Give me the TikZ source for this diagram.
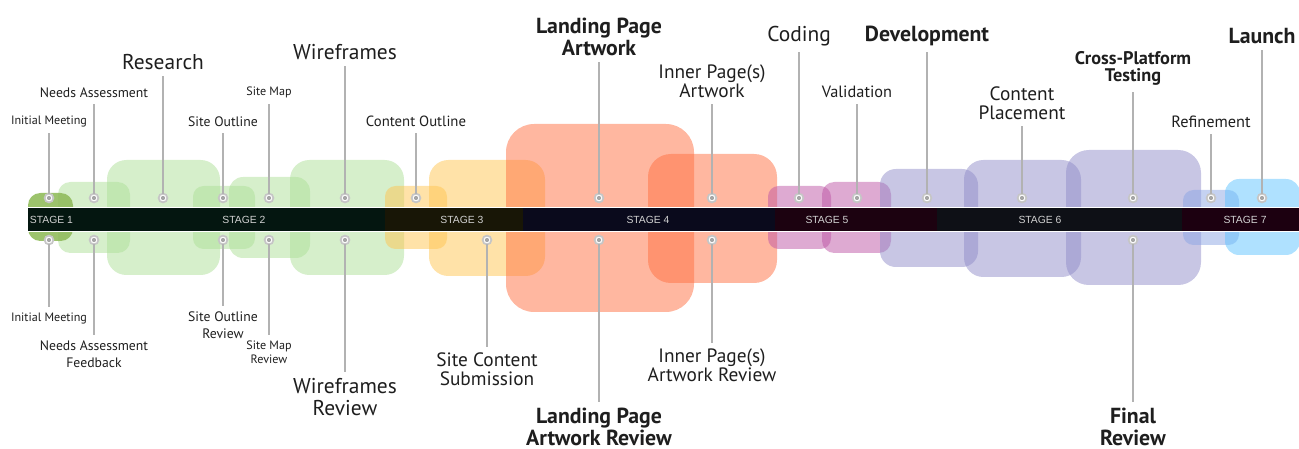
\documentclass[tikz,border=0pt]{standalone}
\usepackage{fontspec}
\setmainfont{PT Sans}
\newfontfamily\stagefont{Liberation Sans}
\usetikzlibrary{positioning}

\definecolor{grn}{RGB}{173,223,151}
\definecolor{grndark}{RGB}{145,188,92}
\definecolor{ylw}{RGB}{255,197,81}
\definecolor{slm}{RGB}{255,111,65}
\definecolor{pnk}{RGB}{189,85,165}
\definecolor{lav}{RGB}{145,141,201}
\definecolor{periw}{RGB}{140,165,228}
\definecolor{sky}{RGB}{95,195,255}
\definecolor{barA}{RGB}{4,22,16}
\definecolor{barB}{RGB}{24,22,6}
\definecolor{barC}{RGB}{10,10,28}
\definecolor{barD}{RGB}{28,2,16}
\definecolor{barE}{RGB}{14,16,22}
\definecolor{barF}{RGB}{28,0,16}
\definecolor{txt}{RGB}{30,30,30}

\begin{document}
\begin{tikzpicture}
[
    x = 0.02cm, y = -0.02cm,
    every node/.style = {inner sep = 0pt, outer sep = 0pt, text = txt},
    gbox/.style = {fill = grn, fill opacity = 0.5},
    ybox/.style = {fill = ylw, fill opacity = 0.5},
    sbox/.style = {fill = slm, fill opacity = 0.5},
    pbox/.style = {fill = pnk, fill opacity = 0.5},
    lbox/.style = {fill = lav, fill opacity = 0.5},
    bbox/.style = {fill = sky, fill opacity = 0.5}
  ]

  \tikzset{StopStyle/.style = {shape        = circle,
                               draw         = gray!45,
                               fill         = white,
                               line width   = 1pt,
                               minimum size = 5pt,
                               path picture = {\fill[gray!70] (path picture bounding box.center) circle (1.2pt);}},
           LeadStyle/.style = {draw = gray!60, line width = 0.6pt},
           TinyStyle/.style  = {font = \fontsize{6.9}{7.6}\selectfont, align = center, inner sep = 3.5pt},
           SmallStyle/.style = {font = \fontsize{7.8}{9.3}\selectfont, align = center, inner sep = 3.5pt},
           MedStyle/.style   = {font = \fontsize{9.3}{10.4}\selectfont, align = center, inner sep = 3.5pt},
           MidStyle/.style   = {font = \fontsize{11}{10.6}\selectfont, align = center, inner sep = 3.5pt},
           BigStyle/.style   = {font = \fontsize{12.2}{12.6}\selectfont, align = center, inner sep = 3.5pt},
           BoldStyle/.style  = {font = \fontsize{12.4}{12.4}\selectfont\bfseries, align = center, inner sep = 3.5pt},
           BoldMidStyle/.style = {font = \fontsize{10.4}{9.8}\selectfont\bfseries, align = center, inner sep = 3.5pt},
           StageStyle/.style = {font = \stagefont\fontsize{5.9}{6}\selectfont, text = white!82!black}}

  \useasboundingbox (0,0) rectangle (1299,449);

  % stage boxes
  \fill[gbox, rounded corners = 7pt] (58,182) rectangle (130,253);
  \fill[gbox, rounded corners = 11pt] (107,160) rectangle (220,275);
  \fill[gbox, rounded corners = 6pt] (193,186) rectangle (255,249);
  \fill[gbox, rounded corners = 8pt] (229,177) rectangle (310,258);
  \fill[gbox, rounded corners = 11pt] (290,160) rectangle (404,275);
  \fill[ybox, rounded corners = 6pt] (385,186) rectangle (447,249);
  \fill[ybox, rounded corners = 11pt] (429,160) rectangle (545,276);
  \fill[sbox, rounded corners = 16pt] (506,124) rectangle (694,312);
  \fill[sbox, rounded corners = 13pt] (648,154) rectangle (777,283);
  \fill[pbox, rounded corners = 6pt] (768,186) rectangle (831,249);
  \fill[pbox, rounded corners = 7pt] (822,182) rectangle (891,253);
  \fill[lbox, rounded corners = 9pt] (880,169) rectangle (978,267);
  \fill[lbox, rounded corners = 11pt] (964,160) rectangle (1081,277);
  \fill[lbox, rounded corners = 13pt] (1066,150) rectangle (1201,285);
  \fill[periw, fill opacity = 0.5, rounded corners = 6pt] (1183,190) rectangle (1239,245);
  \fill[bbox, rounded corners = 8pt] (1225,179) rectangle (1300,255);
  \fill[grndark, fill opacity = 0.9, rounded corners = 7pt] (28,193) rectangle (73,241);

  % timeline bar
  \fill[barA] (28,208) rectangle (386,231);
  \fill[barB] (385,208) rectangle (524,231);
  \fill[barC] (523,208) rectangle (776,231);
  \fill[barD] (775,208) rectangle (938,231);
  \fill[barE] (937,208) rectangle (1183,231);
  \fill[barF] (1182,208) rectangle (1300,231);
  \draw[white, line width = 0.8pt] (28,207.5) -- (1300,207.5);
  \draw[white, line width = 0.8pt] (28,231.5) -- (1300,231.5);

  \node[StageStyle, anchor = west] (st1) at (30,219.5) {STAGE 1};
  \node[StageStyle] (st2) at (244,219.5) {STAGE 2};
  \node[StageStyle] (st3) at (462,219.5) {STAGE 3};
  \node[StageStyle] (st4) at (648,219.5) {STAGE 4};
  \node[StageStyle] (st5) at (827,219.5) {STAGE 5};
  \node[StageStyle] (st6) at (1040,219.5) {STAGE 6};
  \node[StageStyle] (st7) at (1245,219.5) {STAGE 7};

  % stops above the bar
  \node[StopStyle] (uIM) at (49,198) {};
  \node[StopStyle] (uNA) at (94,198) {};
  \node[StopStyle] (uRE) at (163,198) {};
  \node[StopStyle] (uSO) at (223,198) {};
  \node[StopStyle] (uSM) at (269,198) {};
  \node[StopStyle] (uWF) at (345,198) {};
  \node[StopStyle] (uCO) at (416,198) {};
  \node[StopStyle] (uLP) at (599,198) {};
  \node[StopStyle] (uIP) at (712,198) {};
  \node[StopStyle] (uCD) at (799,198) {};
  \node[StopStyle] (uVA) at (857,198) {};
  \node[StopStyle] (uDV) at (927,198) {};
  \node[StopStyle] (uCP) at (1022,198) {};
  \node[StopStyle] (uCT) at (1133,198) {};
  \node[StopStyle] (uRF) at (1211,198) {};
  \node[StopStyle] (uLA) at (1262,198) {};

  % stops below the bar
  \node[StopStyle] (dIM) at (49,240) {};
  \node[StopStyle] (dNA) at (94,240) {};
  \node[StopStyle] (dSO) at (223,240) {};
  \node[StopStyle] (dSM) at (269,240) {};
  \node[StopStyle] (dWF) at (345,240) {};
  \node[StopStyle] (dSC) at (487,240) {};
  \node[StopStyle] (dLP) at (599,240) {};
  \node[StopStyle] (dIP) at (712,240) {};
  \node[StopStyle] (dFR) at (1133,240) {};

  % labels above
  \node[TinyStyle, anchor = south] (tIM) at (49,133) {Initial Meeting};
  \node[SmallStyle, anchor = south] (tNA) at (94,104) {Needs Assessment};
  \node[BigStyle, anchor = south] (tRE) at (163,76) {Research};
  \node[SmallStyle, anchor = south] (tSO) at (223,133) {Site Outline};
  \node[TinyStyle, anchor = south] (tSM) at (269,104) {Site Map};
  \node[BigStyle, anchor = south] (tWF) at (345,66) {Wireframes};
  \node[SmallStyle, anchor = south, font = \fontsize{8.4}{9}\selectfont] (tCO) at (416,133) {Content Outline};
  \node[BoldStyle, anchor = south] (tLP) at (599,62) {Landing Page\\Artwork};
  \node[MidStyle, anchor = south] (tIP) at (712,104) {Inner Page(s)\\Artwork};
  \node[BigStyle, anchor = south] (tCD) at (799,52) {Coding};
  \node[MedStyle, anchor = south] (tVA) at (857,104) {Validation};
  \node[BoldStyle, anchor = south] (tDV) at (927,52) {Development};
  \node[MidStyle, anchor = south] (tCP) at (1022,126) {Content\\Placement};
  \node[BoldMidStyle, anchor = south] (tCT) at (1133,92) {Cross-Platform\\Testing};
  \node[MedStyle, anchor = south] (tRF) at (1211,134) {Refinement};
  \node[BoldStyle, anchor = south] (tLA) at (1262,50) {Launch};

  % labels below
  \node[TinyStyle, anchor = north] (bIM) at (49,307) {Initial Meeting};
  \node[SmallStyle, anchor = north] (bNA) at (94,335) {Needs Assessment\\Feedback};
  \node[SmallStyle, anchor = north] (bSO) at (223,306) {Site Outline\\Review};
  \node[TinyStyle, anchor = north] (bSM) at (269,335) {Site Map\\Review};
  \node[BigStyle, anchor = north] (bWF) at (345,372) {Wireframes\\Review};
  \node[MidStyle, anchor = north] (bSC) at (487,347) {Site Content\\Submission};
  \node[BoldStyle, anchor = north] (bLP) at (599,402) {Landing Page\\Artwork Review};
  \node[MidStyle, anchor = north] (bIP) at (712,343) {Inner Page(s)\\Artwork Review};
  \node[BoldStyle, anchor = north] (bFR) at (1133,402) {Final\\Review};

  % leaders
  \draw[LeadStyle] (uIM) -- (tIM);
  \draw[LeadStyle] (uNA) -- (tNA);
  \draw[LeadStyle] (uRE) -- (tRE);
  \draw[LeadStyle] (uSO) -- (tSO);
  \draw[LeadStyle] (uSM) -- (tSM);
  \draw[LeadStyle] (uWF) -- (tWF);
  \draw[LeadStyle] (uCO) -- (tCO);
  \draw[LeadStyle] (uLP) -- (tLP);
  \draw[LeadStyle] (uIP) -- (tIP);
  \draw[LeadStyle] (uCD) -- (tCD);
  \draw[LeadStyle] (uVA) -- (tVA);
  \draw[LeadStyle] (uDV) -- (tDV);
  \draw[LeadStyle] (uCP) -- (tCP);
  \draw[LeadStyle] (uCT) -- (tCT);
  \draw[LeadStyle] (uRF) -- (tRF);
  \draw[LeadStyle] (uLA) -- (tLA);

  \draw[LeadStyle] (dIM) -- (bIM);
  \draw[LeadStyle] (dNA) -- (bNA);
  \draw[LeadStyle] (dSO) -- (bSO);
  \draw[LeadStyle] (dSM) -- (bSM);
  \draw[LeadStyle] (dWF) -- (bWF);
  \draw[LeadStyle] (dSC) -- (bSC);
  \draw[LeadStyle] (dLP) -- (bLP);
  \draw[LeadStyle] (dIP) -- (bIP);
  \draw[LeadStyle] (dFR) -- (bFR);
\end{tikzpicture}
\end{document}
